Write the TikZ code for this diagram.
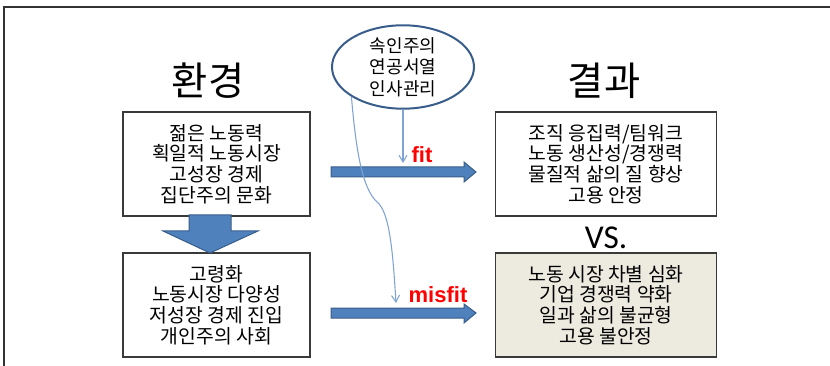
\documentclass[tikz,border=0pt]{standalone}
\usepackage{fontspec}
\setmainfont{Noto Sans CJK KR}
\newfontfamily\latinfont{Liberation Sans}
\newfontfamily\vsfont{Carlito}
\usetikzlibrary{shapes.geometric,arrows.meta}
\definecolor{fatblue}{HTML}{4F81BD}
\definecolor{fatedge}{HTML}{385D8A}
\definecolor{thinblue}{HTML}{7FA3D3}
\definecolor{beige}{HTML}{EDEBE0}
\definecolor{boxedge}{HTML}{3A3A3A}
\tikzset{
  txtbox/.style={draw=boxedge, line width=1pt, minimum height=104*0.75pt, align=center,
    font=\fontsize{14.5}{15.5}\selectfont, inner sep=0pt},
  fatarrow/.style={fill=fatblue, draw=fatedge, line width=0.75pt},
  thinarrow/.style={draw=thinblue, line width=0.8pt, -{Straight Barb[length=5pt,width=6pt]}},
  fitlabel/.style={text=red, font=\latinfont\bfseries\fontsize{16.5}{18}\selectfont, inner sep=0pt},
  heading/.style={font=\fontsize{29.5}{32}\selectfont, inner sep=0pt},
}
\begin{document}
\begin{tikzpicture}[x=0.75pt,y=-0.75pt]
\useasboundingbox (0,0) rectangle (830,366);
% frame
\draw[line width=1.5pt, draw=black!80] (4,366) -- (4,7.5) -- (830,7.5);

% headings
\node[heading] (env) at (208,81) {환경};
\node[heading] (res) at (604,81) {결과};
\node[font=\vsfont\fontsize{25}{27}\selectfont, inner sep=0pt] (vs) at (606,238) {VS.};

% HR ellipse
\node[ellipse, draw=fatedge, line width=1.5pt, fill=white, minimum width=142*0.75pt,
  minimum height=80*0.75pt, inner sep=0pt, align=center,
  font=\fontsize{13.5}{16}\selectfont] (hr) at (403,67) {속인주의\\연공서열\\인사관리};

% boxes
\node[txtbox, minimum width=187*0.75pt] (ub1) at (216.5,164) {젊은 노동력\\획일적 노동시장\\고성장 경제\\집단주의 문화};
\node[txtbox, minimum width=187*0.75pt] (lb1) at (216.5,305) {고령화\\노동시장 다양성\\저성장 경제 진입\\개인주의 사회};
\node[txtbox, minimum width=221*0.75pt] (ub2) at (606,164) {조직 응집력/팀워크\\노동 생산성/경쟁력\\물질적 삶의 질 향상\\고용 안정};
\node[txtbox, minimum width=221*0.75pt, fill=beige] (lb2) at (606,305) {노동 시장 차별 심화\\기업 경쟁력 약화\\일과 삶의 불균형\\고용 불안정};

% fat arrows
\draw[fatarrow] (331,167) -- (464,167) -- (464,162) -- (476,172) -- (464,182) -- (464,177) -- (331,177) -- cycle;
\draw[fatarrow] (331,308) -- (464,308) -- (464,304) -- (476,313) -- (464,323) -- (464,318) -- (331,318) -- cycle;
\draw[fatarrow] (189,215) -- (231,215) -- (231,231) -- (258,231) -- (210,253) -- (163,231) -- (189,231) -- cycle;

% labels
\node[fitlabel] (fit) at (422,155) {fit};
\node[fitlabel] (misfit) at (438,295) {misfit};

% thin arrows
\coordinate (fittip) at (403,163);
\coordinate (misfittip) at (396,303);
\coordinate (kink) at (377,202);
\draw[thinarrow] (hr.south) -- (fittip);
\draw[thinarrow] (hr.210) .. controls (356,150) and (362,188) .. (kink)
  .. controls (390,212) and (393,255) .. (misfittip);
\end{tikzpicture}
\end{document}
